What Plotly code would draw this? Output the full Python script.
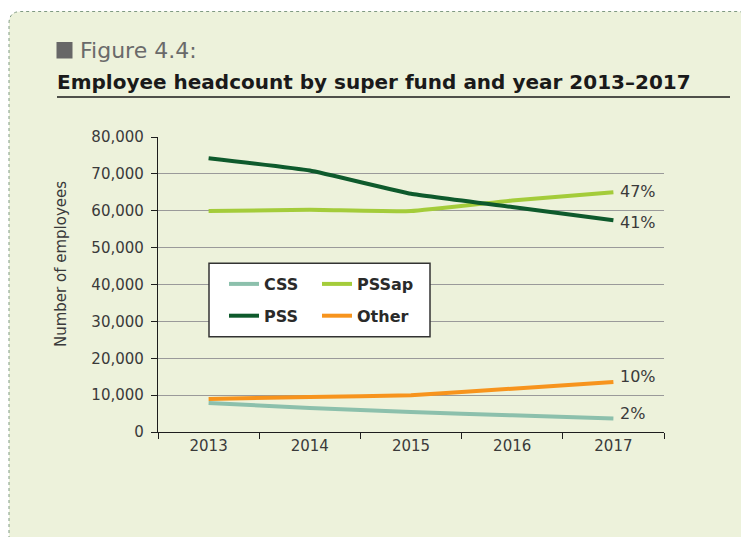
import plotly.graph_objects as go

years = ["2013", "2014", "2015", "2016", "2017"]
css = [7860, 6500, 5420, 4530, 3630]
pssap = [59900, 60270, 59900, 62800, 65040]
pss = [74250, 70900, 64600, 61000, 57400]
other = [8940, 9490, 9950, 11760, 13550]
end_labels = ["2%", "47%", "41%", "10%"]
y_ticks = [0, 10000, 20000, 30000, 40000, 50000, 60000, 70000, 80000]
y_ticktext = ["0", "10,000", "20,000", "30,000", "40,000", "50,000", "60,000", "70,000", "80,000"]

W, H = 741, 537
L, R, T, B = 158, 77, 137, 105
PW, PH = W - L - R, H - T - B


def px(x):
    return (x - L) / PW


def py(y):
    return (H - B - y) / PH


FONT = "DejaVu Sans"
TXT = "#3a3a3a"

fig = go.Figure()
series = [
    ("CSS", css, "#8cc0ac", "legend"),
    ("PSSap", pssap, "#a4cc3a", "legend2"),
    ("PSS", pss, "#0e5a2c", "legend"),
    ("Other", other, "#f7941d", "legend2"),
]
for name, vals, col, lg in series:
    fig.add_trace(go.Scatter(
        x=years, y=vals, name=name, mode="lines",
        line=dict(color=col, width=4, shape="spline", smoothing=0.3),
        legend=lg, legendgroup=name, hoverinfo="skip",
    ))

# end labels
yshifts = [5, 1, -2, 6]
last = len(years) - 1
for (name, vals, col, lg), lab, ys in zip(series, end_labels, yshifts):
    fig.add_annotation(xref="x", yref="y", x=last, y=vals[-1], text=lab, showarrow=False,
                       xanchor="left", yanchor="middle", xshift=5, yshift=ys,
                       font=dict(family=FONT, size=16, color=TXT))

# background frame with rounded top-left / top-right corners
x0, y0, x1, r = 9, 11.5, 749, 12
path = (f"M {px(x0)},{py(H + 20)} L {px(x0)},{py(y0 + r)} "
        f"Q {px(x0)},{py(y0)} {px(x0 + r)},{py(y0)} "
        f"L {px(x1 - r)},{py(y0)} Q {px(x1)},{py(y0)} {px(x1)},{py(y0 + r)} "
        f"L {px(x1)},{py(H + 20)} Z")
fig.add_shape(type="path", xref="paper", yref="paper", path=path,
              fillcolor="#edf2db", line=dict(color="#7f9a82", width=1, dash="dot"),
              layer="below")

# legend box
fig.add_shape(type="rect", xref="paper", yref="paper",
              x0=px(209), x1=px(430), y0=py(263.3), y1=py(336.7),
              fillcolor="white", line=dict(color="#333333", width=1.5), layer="above")

# title square and underline
fig.add_shape(type="rect", xref="paper", yref="paper",
              x0=px(56.5), x1=px(72.5), y0=py(42), y1=py(58.5),
              fillcolor="#676767", line=dict(width=0), layer="above")
fig.add_shape(type="line", xref="paper", yref="paper",
              x0=px(57), x1=px(730), y0=py(97), y1=py(97),
              line=dict(color="#1a1a1a", width=1.3), layer="above")

fig.add_annotation(xref="paper", yref="paper", x=px(78), y=py(51), text="Figure 4.4:",
                   showarrow=False, xanchor="left", yanchor="middle",
                   font=dict(family=FONT, size=22, color="#6a6a6a"))
fig.add_annotation(xref="paper", yref="paper", x=px(55), y=py(82),
                   text="Employee headcount by super fund and year 2013\u20132017",
                   showarrow=False, xanchor="left", yanchor="middle",
                   font=dict(family=FONT, size=20, color="#1a1a1a", weight="bold"))
fig.add_annotation(xref="paper", yref="paper", x=px(61), y=py(264),
                   text="Number of employees", textangle=-90, showarrow=False,
                   xanchor="center", yanchor="middle",
                   font=dict(family=FONT, size=15, color=TXT))

legend_common = dict(bgcolor="rgba(0,0,0,0)", borderwidth=0, xanchor="left", yanchor="top",
                     orientation="v", traceorder="grouped", tracegroupgap=8,
                     font=dict(family=FONT, size=16, color="#2a2a2a", weight="bold"))
fig.update_layout(
    width=W, height=H,
    margin=dict(l=L, r=R, t=T, b=B, pad=0),
    paper_bgcolor="white", plot_bgcolor="rgba(0,0,0,0)",
    showlegend=True,
    legend=dict(x=px(224), y=py(267), **legend_common),
    legend2=dict(x=px(317), y=py(267), **legend_common),
    xaxis=dict(type="category", range=[-0.5, 4.5], tickson="boundaries",
               showline=True, linecolor="#1e1e1e", linewidth=1.3,
               ticks="outside", ticklen=6, tickcolor="#1e1e1e", tickwidth=1.3,
               showgrid=False, tickfont=dict(family=FONT, size=15, color=TXT),
               fixedrange=True),
    yaxis=dict(range=[0, 80000], tickvals=y_ticks, ticktext=y_ticktext,
               showline=True, linecolor="#1e1e1e", linewidth=1.3,
               ticks="outside", ticklen=6, tickcolor="#1e1e1e", tickwidth=1.3,
               showgrid=True, gridcolor="#9a9a9a", gridwidth=1.2, zeroline=False,
               ticklabelstandoff=4,
               tickfont=dict(family=FONT, size=15, color=TXT), fixedrange=True),
)

fig.write_html("out.html", config={"displayModeBar": False},
               post_script="document.body.style.margin='0';")
